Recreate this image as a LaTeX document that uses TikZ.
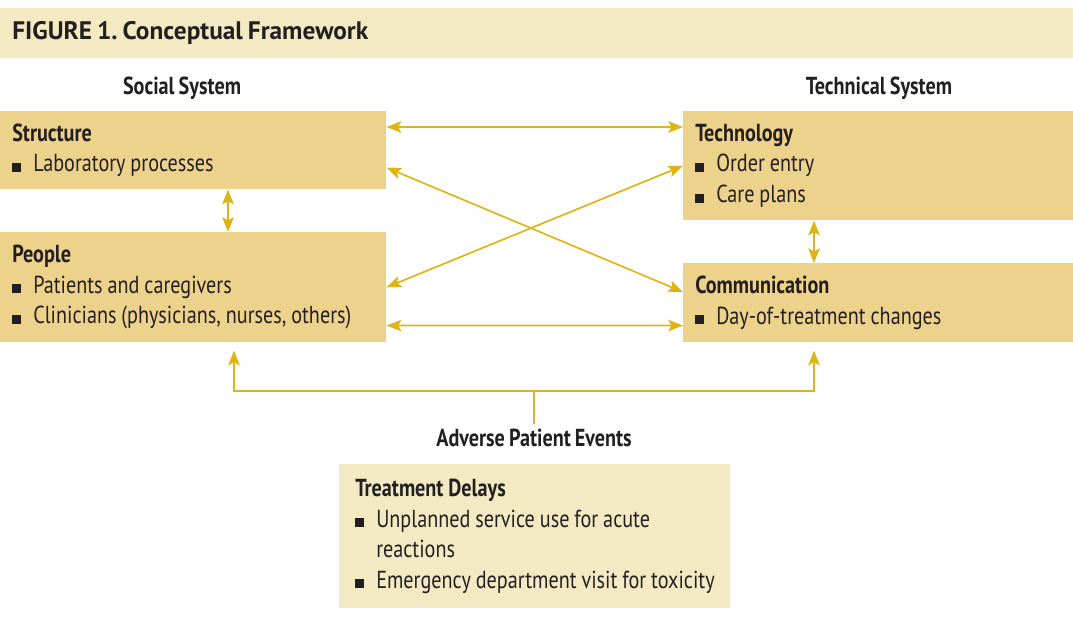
\documentclass[tikz,border=0pt]{standalone}
\usepackage{fontspec}
\setmainfont{PT Sans}[FakeStretch=0.82, WordSpace=0.8]
\newfontfamily\headfont{PT Sans}
\usetikzlibrary{positioning,arrows.meta}
\definecolor{ink}{HTML}{231F20}
\definecolor{sand}{HTML}{EDD28C}
\definecolor{cream}{HTML}{F3EAC3}
\definecolor{gold}{HTML}{DFB416}
\frenchspacing
\newcommand{\sq}{\makebox[0.525cm][l]{\rule{0.225cm}{0.225cm}}}
\tikzset{node distance=2cm,
  box/.style={fill=sand, anchor=north west, align=left, inner xsep=0.3cm, inner ysep=0pt, text=ink, font=\fontsize{17.5}{21.8}\selectfont, execute at begin node={\spaceskip=0.2em\relax}},
  pale/.style={box, fill=cream},
  head/.style={text=ink, font=\fontsize{17.5}{20}\selectfont\bfseries},
  link/.style={draw=gold, line width=1.2pt, {Stealth[length=0.37cm,width=0.29cm,inset=0.08cm]}-{Stealth[length=0.37cm,width=0.29cm,inset=0.08cm]}},
  feed/.style={draw=gold, line width=1.2pt, -{Stealth[length=0.37cm,width=0.29cm,inset=0.08cm]}}}

\begin{document}
\begin{tikzpicture}
\useasboundingbox (0,0) rectangle (26.825,-15.675);

\node[pale, text width=26.225cm, minimum height=1.25cm, font=\headfont\fontsize{18}{20}\selectfont\bfseries] (title) at (0,-0.2) {FIGURE 1. Conceptual Framework};

\node[head] (social) at (4.55,-2.2) {Social System};
\node[head] (technical) at (21.975,-2.2) {Technical System};

\node[box, text width=9.05cm, minimum height=1.95cm] (S) at (0,-2.775)
  {\textbf{Structure}\\ \sq Laboratory processes};
\node[box, text width=9.05cm, minimum height=2.75cm] (P) at (0,-5.8)
  {\textbf{People}\\ \sq Patients and caregivers\\ \sq Clinicians (physicians, nurses, others)};
\node[box, text width=9.15cm, minimum height=2.725cm] (T) at (17.075,-2.775)
  {\textbf{Technology}\\ \sq Order entry\\ \sq Care plans};
\node[box, text width=9.15cm, minimum height=1.975cm] (C) at (17.075,-6.575)
  {\textbf{Communication}\\ \sq Day-of-treatment changes};

\node[head] (E) at (13.35,-10.95) {Adverse Patient Events};
\node[pale, inner xsep=0.4cm, text width=8.975cm, minimum height=3.6cm] (D) at (8.475,-11.6)
  {\textbf{Treatment Delays}\\ \sq Unplanned service use for acute\\ \hspace*{0.525cm}reactions\\ \mbox{\sq Emergency department visit for toxicity}};

\coordinate (J) at (13.35,-9.775);

% social <-> technical
\draw[link] ([yshift=-0.4cm]S.north east) -- ([yshift=-0.4cm]T.north west);
\draw[link] ([yshift=0.55cm]S.south east) -- ([yshift=-0.725cm]C.north west);
\draw[link] (P.east) -- (T.west);
\draw[link] ([yshift=0.425cm]P.south east) -- ([yshift=0.425cm]C.south west);
\draw[link] ([xshift=5.7cm]S.south west) -- ([xshift=5.7cm]P.north west);
\draw[link] ([xshift=3.275cm]T.south west) -- ([xshift=3.275cm]C.north west);

% events feed back
\draw[draw=gold, line width=1.2pt] (E.north) -- (J);
\draw[feed] (J) -| ([xshift=5.85cm,yshift=-0.2cm]P.south west);
\draw[feed] (J) -| ([xshift=3.275cm,yshift=-0.2cm]C.south west);
\end{tikzpicture}
\end{document}
